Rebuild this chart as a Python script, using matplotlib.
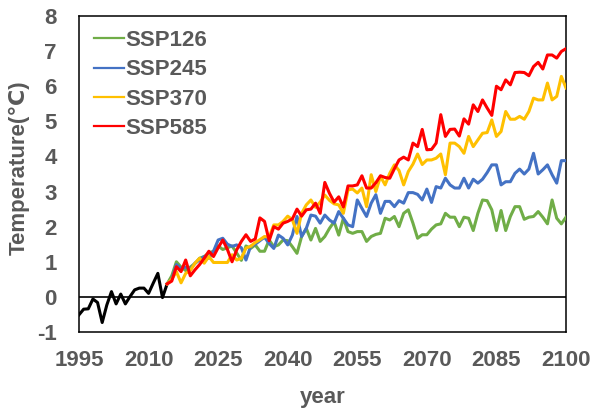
import numpy as np
import matplotlib
matplotlib.use("Agg")
import matplotlib.pyplot as plt

plt.rcParams['font.family'] = ['Liberation Sans', 'DejaVu Sans']
plt.rcParams['font.weight'] = 'bold'
plt.rcParams['axes.unicode_minus'] = False

# observed anomaly 1995-2014
hist_years = np.arange(1995, 2015)
hist = [-0.51, -0.35, -0.34, -0.06, -0.16, -0.73, -0.23, 0.15, -0.20, 0.08,
        -0.20, 0.01, 0.20, 0.25, 0.25, 0.10, 0.39, 0.67, -0.02, 0.37]

# projections 2014-2100
proj_years = np.arange(2014, 2101)
ssp126 = [0.37, 0.60, 1.00, 0.85, 0.75, 0.85, 0.95, 1.10, 1.15, 1.25,
          1.30, 1.45, 1.35, 1.40, 1.45, 1.25, 1.04, 1.45, 1.38, 1.48,
          1.30, 1.30, 1.62, 1.43, 1.48, 1.62, 1.60, 1.43, 1.24, 1.72,
          1.95, 1.62, 1.95, 1.58, 1.72, 1.95, 2.14, 1.76, 2.24, 1.86,
          1.81, 1.86, 1.86, 1.58, 1.72, 1.78, 1.81, 2.24, 2.19, 2.29,
          2.00, 2.38, 2.48, 2.10, 1.67, 1.77, 1.77, 1.93, 2.05, 2.08,
          2.38, 2.27, 2.27, 2.00, 2.27, 2.24, 1.89, 2.38, 2.76, 2.74,
          2.48, 1.89, 2.46, 1.89, 2.29, 2.57, 2.57, 2.21, 2.27, 2.29,
          2.43, 2.27, 2.08, 2.76, 2.24, 2.08, 2.27]
ssp245 = [0.37, 0.50, 0.92, 0.80, 0.85, 0.78, 0.96, 1.05, 1.15, 1.10,
          1.30, 1.62, 1.67, 1.50, 1.44, 1.48, 1.40, 1.05, 1.44, 1.50,
          1.60, 1.70, 1.52, 1.38, 1.76, 1.67, 1.48, 1.76, 2.29, 1.72,
          1.95, 2.33, 2.30, 2.10, 2.33, 2.19, 2.10, 2.43, 2.24, 2.05,
          2.00, 2.76, 2.52, 2.29, 2.67, 2.91, 2.38, 2.72, 2.72, 2.57,
          2.74, 2.67, 2.97, 2.97, 2.92, 2.76, 3.07, 2.69, 3.14, 3.10,
          3.38, 3.19, 3.10, 3.10, 3.38, 3.10, 3.35, 3.24, 3.35, 3.54,
          3.76, 3.76, 3.19, 3.28, 3.28, 3.52, 3.64, 3.50, 3.64, 4.09,
          3.50, 3.62, 3.76, 3.48, 3.24, 3.88, 3.88]
ssp370 = [0.37, 0.50, 0.72, 0.40, 0.67, 0.75, 0.96, 1.10, 0.96, 1.15,
          0.98, 0.98, 0.98, 0.98, 1.20, 1.05, 1.10, 1.39, 1.44, 1.55,
          1.63, 1.72, 1.70, 2.05, 2.05, 2.15, 2.30, 2.20, 1.81, 2.38,
          2.62, 2.76, 2.55, 2.70, 2.90, 2.75, 2.65, 2.62, 2.38, 3.05,
          3.07, 2.96, 3.10, 2.57, 3.48, 3.00, 3.43, 3.19, 3.52, 3.76,
          3.60, 3.19, 3.57, 3.78, 4.07, 3.77, 3.90, 3.90, 3.95, 4.07,
          3.48, 4.38, 4.38, 4.28, 4.09, 4.57, 4.28, 4.47, 4.66, 4.68,
          5.04, 4.57, 4.71, 5.28, 5.06, 5.06, 5.14, 5.06, 5.28, 5.66,
          5.61, 5.61, 6.09, 5.61, 5.71, 6.28, 5.95]
ssp585 = [0.37, 0.45, 0.86, 0.72, 1.05, 0.60, 0.77, 0.92, 1.10, 1.30,
          1.15, 1.40, 1.62, 1.35, 1.00, 1.34, 1.58, 1.77, 1.58, 1.65,
          2.25, 2.15, 1.60, 2.00, 1.93, 2.10, 2.15, 2.22, 2.50, 2.30,
          2.48, 2.50, 2.67, 2.38, 3.26, 2.95, 2.70, 2.85, 2.56, 3.16,
          3.16, 3.19, 3.45, 3.10, 3.10, 3.25, 3.45, 3.40, 3.38, 3.65,
          3.90, 3.98, 3.90, 4.38, 4.28, 4.77, 4.19, 4.20, 4.38, 5.19,
          4.57, 4.77, 4.78, 4.58, 5.07, 4.92, 5.47, 5.28, 5.61, 5.38,
          5.17, 6.00, 5.90, 6.18, 6.04, 6.39, 6.40, 6.39, 6.30, 6.56,
          6.68, 6.49, 6.89, 6.89, 6.80, 6.99, 7.07]

scenarios = ['SSP126', 'SSP245', 'SSP370', 'SSP585']
colors = ['#70AD47', '#4472C4', '#FFC000', '#FF0000']
xticks = [1995, 2010, 2025, 2040, 2055, 2070, 2085, 2100]
yticks = [-1, 0, 1, 2, 3, 4, 5, 6, 7, 8]

grey = '#595959'
fs = 16

fig = plt.figure(figsize=(5.96, 4.13), dpi=100)
ax = fig.add_axes([79 / 596, 1 - 332 / 413, 487 / 596, 316 / 413])

ax.axhline(0, color='black', lw=1.2, zorder=1)
ax.plot(hist_years, hist, color='black', lw=2.2, zorder=2)
for name, vals, c in zip(scenarios, [ssp126, ssp245, ssp370, ssp585], colors):
    ax.plot(proj_years, vals, color=c, lw=2.2, label=name, zorder=3)

ax.set_xlim(1995, 2100)
ax.set_ylim(-1, 8)
ax.set_xticks(xticks)
ax.set_yticks(yticks)
ax.tick_params(axis='both', length=0, labelsize=fs, labelcolor=grey)
ax.tick_params(axis='x', pad=13)
ax.tick_params(axis='y', pad=16)
for lab in ax.get_xticklabels() + ax.get_yticklabels():
    lab.set_fontweight('bold')
for sp in ax.spines.values():
    sp.set_color('black')
    sp.set_linewidth(1.1)

fig.text(19 / 596, 1 - 168 / 413, 'Temperature(℃)', rotation=90, ha='center', va='center',
         fontsize=fs, color=grey, fontweight='bold')
fig.text(322.5 / 596, 1 - 397 / 413, 'year', ha='center', va='center',
         fontsize=fs, color=grey, fontweight='bold')

leg = ax.legend(loc='upper left', bbox_to_anchor=(0.03, 0.955), frameon=False,
                fontsize=fs, handlelength=1.35, handletextpad=0.1,
                labelspacing=0.37, borderaxespad=0, borderpad=0)
for t in leg.get_texts():
    t.set_color(grey)
    t.set_fontweight('bold')
for line in leg.get_lines():
    line.set_linewidth(1.6)

fig.savefig('out.png', dpi=100)
